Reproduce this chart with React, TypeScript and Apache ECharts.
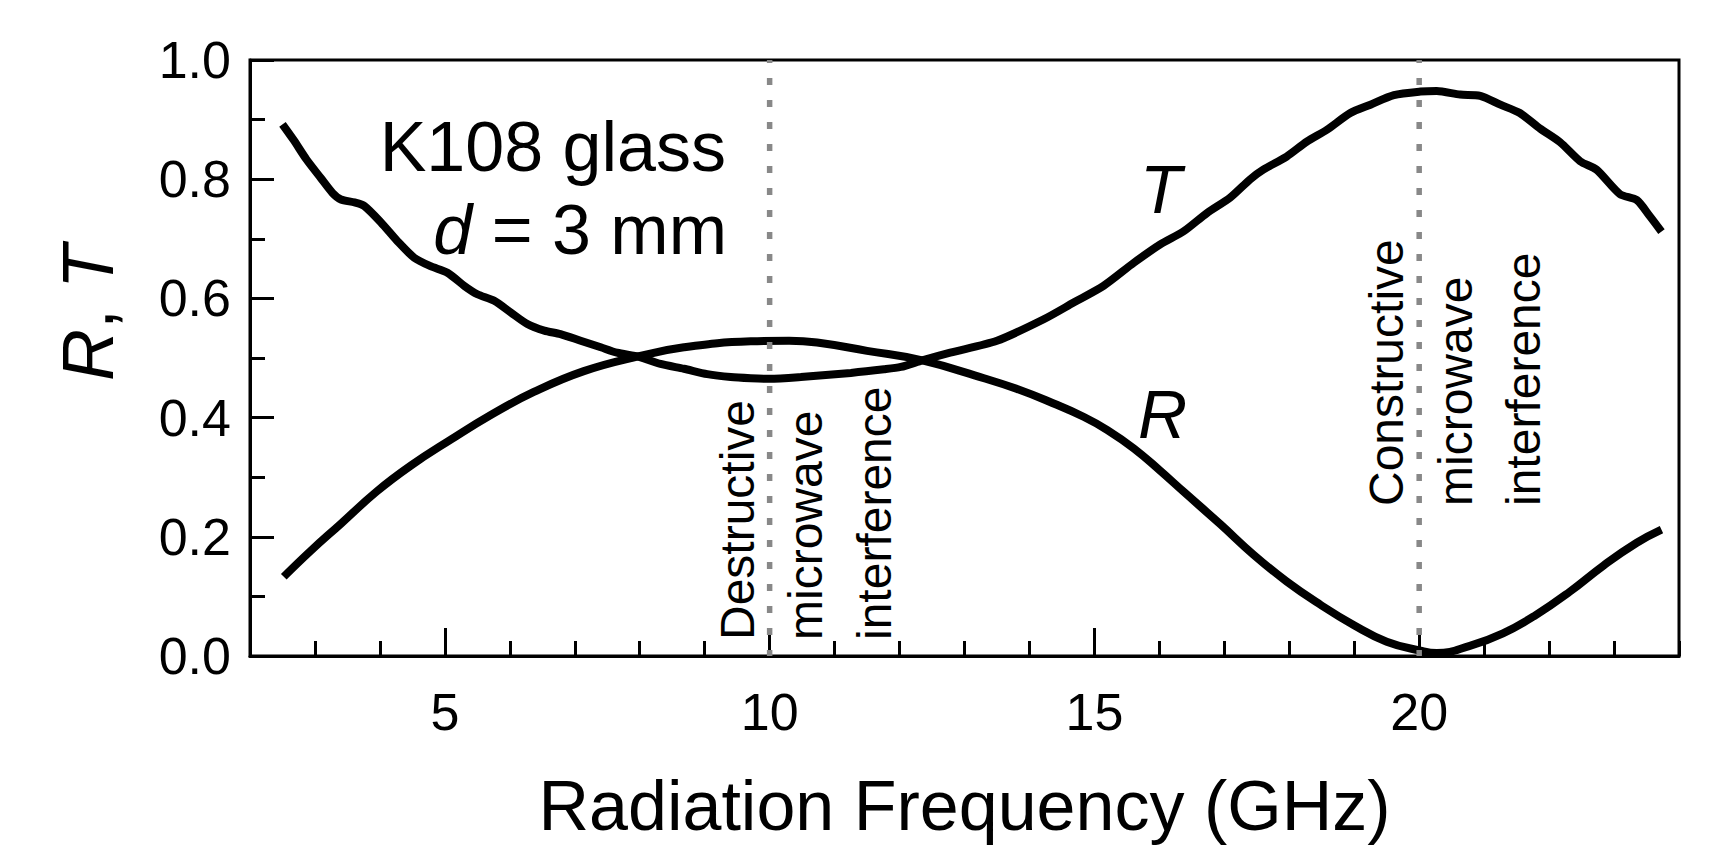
import React, { useEffect, useRef } from "react";
import * as echarts from "echarts";

// Transmission T
const tFreq = [2.5, 2.67, 2.87, 3.09, 3.27, 3.4, 3.61, 3.76, 4.02, 4.27, 4.53, 4.78, 5.04, 5.3, 5.5, 5.76, 6.02, 6.27, 6.53, 6.78, 7.09, 7.4, 7.65, 7.99, 8.32, 8.68, 9.04, 9.4, 9.71, 10.0, 10.48, 11.25, 11.76, 12.02, 12.35, 12.78, 13.5, 14.22, 14.68, 15.14, 15.61, 16.02, 16.38, 16.73, 17.09, 17.4, 17.6, 17.96, 18.27, 18.58, 18.94, 19.25, 19.61, 20.02, 20.27, 20.63, 20.94, 21.25, 21.55, 21.86, 22.17, 22.48, 22.73, 23.09, 23.35, 23.55, 23.73];
const tVal = [0.892, 0.866, 0.833, 0.802, 0.777, 0.766, 0.761, 0.755, 0.727, 0.696, 0.668, 0.654, 0.643, 0.621, 0.607, 0.596, 0.576, 0.557, 0.546, 0.54, 0.529, 0.518, 0.509, 0.502, 0.49, 0.482, 0.473, 0.468, 0.466, 0.465, 0.468, 0.475, 0.481, 0.485, 0.496, 0.509, 0.529, 0.565, 0.593, 0.621, 0.66, 0.691, 0.713, 0.743, 0.769, 0.8, 0.816, 0.838, 0.863, 0.883, 0.911, 0.925, 0.941, 0.947, 0.948, 0.942, 0.94, 0.925, 0.911, 0.885, 0.862, 0.83, 0.816, 0.775, 0.765, 0.738, 0.712];

// Reflection R
const rFreq = [2.52, 2.93, 3.4, 3.95, 4.47, 5.09, 5.7, 6.37, 7.14, 7.99, 8.68, 9.71, 10.3, 10.73, 11.5, 12.35, 13.3, 13.81, 14.3, 14.84, 15.2, 15.61, 16.0, 16.38, 16.94, 17.45, 17.96, 18.48, 18.99, 19.5, 20.02, 20.27, 20.78, 21.29, 21.8, 22.32, 22.84, 23.35, 23.73];
const rVal = [0.133, 0.176, 0.222, 0.276, 0.319, 0.363, 0.404, 0.443, 0.478, 0.503, 0.518, 0.528, 0.529, 0.526, 0.512, 0.496, 0.466, 0.448, 0.427, 0.401, 0.379, 0.348, 0.312, 0.275, 0.221, 0.17, 0.125, 0.086, 0.052, 0.024, 0.009, 0.005, 0.017, 0.038, 0.069, 0.108, 0.152, 0.19, 0.212];

const xMajorTicks = [5, 10, 15, 20];
const markerFreqs = [10, 20];
const markerLines = [
  ["Destructive", "microwave", "interference"],
  ["Constructive", "microwave", "interference"],
];
const xAxisTitle = "Radiation Frequency (GHz)";
const sampleTitle = "K108 glass";

const FONT = "'Liberation Sans', Arial, Helvetica, sans-serif";

export default function App() {
  const ref = useRef<HTMLDivElement>(null);

  useEffect(() => {
    if (!ref.current) return;
    const chart = echarts.init(ref.current, null, { renderer: "svg" });

    const tData = tFreq.map((f, i) => [f, tVal[i]]);
    const rData = rFreq.map((f, i) => [f, rVal[i]]);

    const axisLineStyle = { color: "#000", width: 3 };

    const markerGroupPos = [
      { xs: [737, 805, 874], y: 640 },
      { xs: [1386, 1455, 1523], y: 506 },
    ];
    const rotated: any[] = [];
    markerLines.forEach((lines, g) => {
      lines.forEach((txt, k) => {
        rotated.push({
          type: "text",
          x: markerGroupPos[g].xs[k],
          y: markerGroupPos[g].y,
          rotation: Math.PI / 2,
          z: 10,
          style: {
            text: txt,
            fontSize: 48,
            fontFamily: FONT,
            fill: "#000",
            align: "left",
            verticalAlign: "middle",
            textAlign: "left",
            textVerticalAlign: "middle",
          },
        });
      });
    });

    chart.setOption({
      animation: false,
      backgroundColor: "#fff",
      grid: {
        left: 250,
        right: 39,
        top: 60,
        bottom: 188,
        show: true,
        borderColor: "#000",
        borderWidth: 3,
        backgroundColor: "transparent",
      },
      xAxis: [
        {
          type: "value",
          min: 2,
          max: 24,
          position: "bottom",
          axisLine: { show: true, onZero: false, lineStyle: axisLineStyle },
          axisTick: {
            show: true,
            inside: true,
            length: 28,
            customValues: xMajorTicks,
            lineStyle: axisLineStyle,
          },
          axisLabel: {
            customValues: xMajorTicks,
            margin: 30,
            fontSize: 52,
            color: "#000",
            fontFamily: FONT,
          },
          splitLine: { show: false },
          name: xAxisTitle,
          nameLocation: "middle",
          nameGap: 150,
          nameTextStyle: {
            fontSize: 70,
            color: "#000",
            fontFamily: FONT,
            verticalAlign: "middle",
          },
        },
        {
          type: "value",
          min: 2,
          max: 24,
          interval: 1,
          position: "bottom",
          axisLine: { show: false },
          axisTick: { show: true, inside: true, length: 15, lineStyle: axisLineStyle },
          axisLabel: { show: false },
          splitLine: { show: false },
        },
      ],
      yAxis: {
        type: "value",
        min: 0,
        max: 1,
        interval: 0.2,
        axisLine: { show: true, onZero: false, lineStyle: axisLineStyle },
        axisTick: { show: true, inside: true, length: 24, lineStyle: axisLineStyle },
        minorTick: { show: true, splitNumber: 2, length: 15, lineStyle: axisLineStyle },
        axisLabel: {
          formatter: (v: number) => v.toFixed(1),
          margin: 19,
          fontSize: 52,
          color: "#000",
          fontFamily: FONT,
        },
        splitLine: { show: false },
        minorSplitLine: { show: false },
      },
      series: [
        {
          name: "T",
          type: "line",
          data: tData,
          showSymbol: false,
          symbol: "none",
          smooth: 0.25,
          clip: false,
          z: 2,
          lineStyle: { color: "#000", width: 8 },
        },
        {
          name: "R",
          type: "line",
          data: rData,
          showSymbol: false,
          symbol: "none",
          smooth: 0.45,
          clip: false,
          z: 2,
          lineStyle: { color: "#000", width: 8 },
        },
        ...markerFreqs.map((f) => ({
          name: "marker " + f,
          type: "line",
          data: [
            [f, 1],
            [f, 0],
          ],
          symbol: "none",
          silent: true,
          z: 5,
          lineStyle: { color: "#888888", width: 5.5, type: [7, 15], dashOffset: 4 },
        })),
      ],
      graphic: [
        {
          type: "text",
          x: 726,
          y: 147,
          z: 10,
          style: {
            text: sampleTitle,
            fontSize: 70,
            fontFamily: FONT,
            fill: "#000",
            align: "right",
            verticalAlign: "middle",
            textAlign: "right",
            textVerticalAlign: "middle",
          },
        },
        {
          type: "text",
          x: 727,
          y: 230,
          z: 10,
          style: {
            text: "{i|d} = 3 mm",
            fontSize: 70,
            fontFamily: FONT,
            fill: "#000",
            align: "right",
            verticalAlign: "middle",
            textAlign: "right",
            textVerticalAlign: "middle",
            rich: {
              i: { fontStyle: "italic", fontSize: 70, fontFamily: FONT, fill: "#000" },
            },
          },
        },
        {
          type: "text",
          x: 1140,
          y: 189,
          z: 10,
          style: {
            text: "T",
            fontSize: 68,
            fontStyle: "italic",
            fontFamily: FONT,
            fill: "#000",
            align: "left",
            verticalAlign: "middle",
            textAlign: "left",
            textVerticalAlign: "middle",
          },
        },
        {
          type: "text",
          x: 1138,
          y: 414,
          z: 10,
          style: {
            text: "R",
            fontSize: 68,
            fontStyle: "italic",
            fontFamily: FONT,
            fill: "#000",
            align: "left",
            verticalAlign: "middle",
            textAlign: "left",
            textVerticalAlign: "middle",
          },
        },
        {
          type: "text",
          x: 88,
          y: 313,
          rotation: Math.PI / 2,
          z: 10,
          style: {
            text: "{i|R}, {i|T}",
            fontSize: 72,
            fontFamily: FONT,
            fill: "#000",
            align: "center",
            verticalAlign: "middle",
            textAlign: "center",
            textVerticalAlign: "middle",
            rich: {
              i: { fontStyle: "italic", fontSize: 72, fontFamily: FONT, fill: "#000" },
            },
          },
        },
        ...rotated,
      ],
    });

    return () => {
      chart.dispose();
    };
  }, []);

  return (
    <div
      ref={ref}
      style={{ position: "fixed", left: 0, top: 0, width: 1718, height: 846, background: "#fff" }}
    />
  );
}
